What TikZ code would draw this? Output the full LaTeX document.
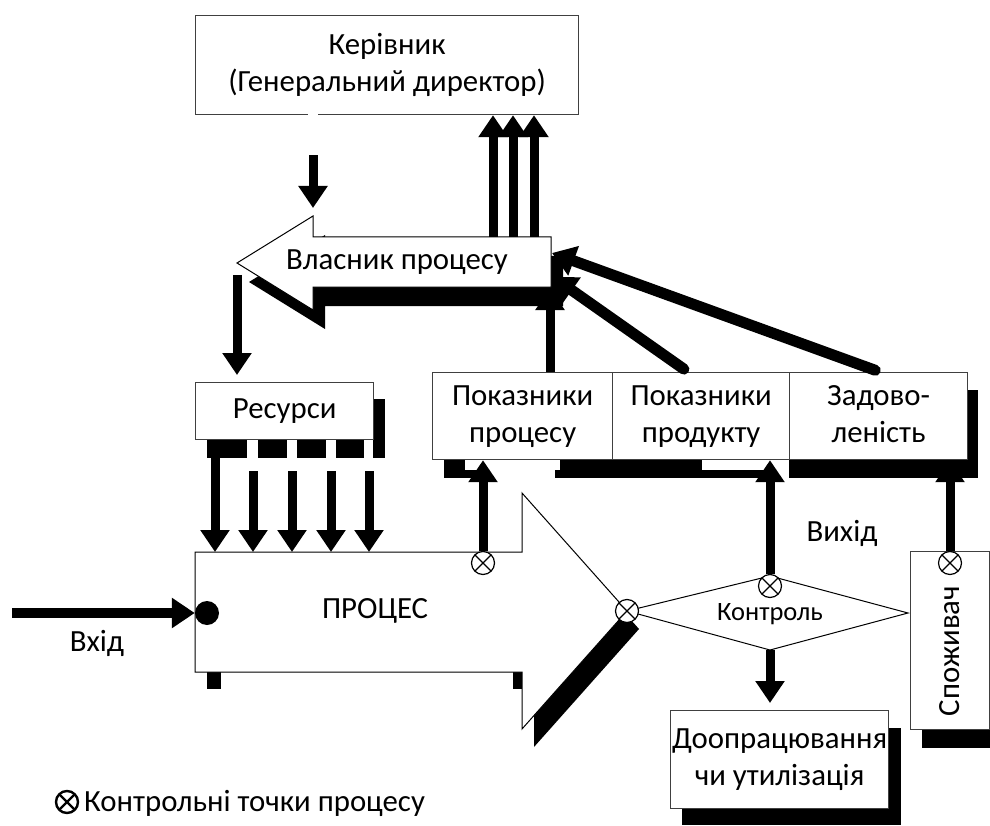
\documentclass[tikz,border=0pt]{standalone}
\usepackage{fontspec}
\setmainfont{Carlito}
\usetikzlibrary{arrows.meta,calc}

\newcommand\diagfont{\fontsize{30.8}{37}\selectfont}
\newcommand\smallfont{\fontsize{26.5}{32}\selectfont}

\tikzset{
  box/.style={draw=black!75, line width=1.2pt, fill=white, inner sep=0pt, align=center, font=\diagfont},
  outline/.style={draw=black, line width=1pt, fill=white},
  lbl/.style={inner sep=0pt, font=\diagfont, align=center},
  fat/.style={line width=9pt, -{Triangle[width=28pt,length=22pt]}},
  fatdiag/.style={line width=11pt, line cap=round, -{Triangle[width=30pt,length=23pt]}},
  cpoint/.style={circle, draw=black, fill=white, line width=1.2pt, minimum size=23pt, inner sep=0pt,
    path picture={
      \draw[line width=1.2pt] (path picture bounding box.north west) -- (path picture bounding box.south east)
        (path picture bounding box.north east) -- (path picture bounding box.south west);}},
  legpoint/.style={circle, draw=black, fill=white, line width=2.4pt, minimum size=22pt, inner sep=0pt,
    path picture={
      \draw[line width=2.4pt] (path picture bounding box.north west) -- (path picture bounding box.south east)
        (path picture bounding box.north east) -- (path picture bounding box.south west);}},
}

\begin{document}
\begin{tikzpicture}[x=1pt, y=-1pt]
\useasboundingbox (0,0) rectangle (990,826);

% ---------- shadows ----------
% process owner arrow
\fill[black, shift={(12,19)}] (551,237) -- (313,237) -- (313,216) -- (237,263) -- (313,310) -- (313,287) -- (551,287) -- cycle;
% resources box
\fill (373,399) rectangle (385,458);
\foreach \a/\b in {207/247,258/287,297/326,336/364,374/385}
  \fill (\a,439) rectangle (\b,458);
% indicator boxes
\fill (444,459) rectangle (465,478);
\fill (465,470) rectangle (478,478);
\fill (555,470) rectangle (560,478);
\fill (560,459) rectangle (702,478);
\fill (702,470) rectangle (772,478);
\fill (789,459) rectangle (978,478);
\fill (967,390) rectangle (978,459);
% process arrow
\fill (534,511) -- (639,629) -- (534,747) -- cycle;
\fill (207,672) rectangle (221,689);
\fill (513,672) rectangle (523,689);
% rework and consumer boxes
\fill (682,728) rectangle (901,825);
\fill (922,729) rectangle (990,748);

% ---------- shapes ----------
\node[box, minimum width=383pt, minimum height=99pt, anchor=north west] (boss) at (195,15)
  {Керівник\\(Генеральний директор)};
\fill[white] (308,110) rectangle (318,118);

\draw[outline] (551,237) -- (313,237) -- (313,216) -- (237,263) -- (313,310) -- (313,287) -- (551,287) -- cycle;
\node[lbl] (owner) at (397,262) {Власник процесу};
\coordinate (ownTop) at (551,237);
\coordinate (ownHead) at (313,216);
\coordinate (ownTip) at (237,263);

\node[box, minimum width=178pt, minimum height=57pt, anchor=north west] (res) at (195,382) {Ресурси};

\node[box, minimum width=180pt, minimum height=87pt, anchor=north west] (pp) at (432,372) {Показники\strut\\процесу\strut};
\node[box, minimum width=177pt, minimum height=87pt, anchor=north west] (prod) at (612,372) {Показники\strut\\продукту\strut};
\node[box, minimum width=178pt, minimum height=87pt, anchor=north west] (zad) at (789,372) {Задово-\strut\\леність\strut};

\draw[outline] (195,552) -- (522,552) -- (522,493) -- (627,611) -- (522,729) -- (522,672) -- (195,672) -- cycle;
\node[lbl] (proc) at (375,611) {ПРОЦЕС};
\coordinate (procTop) at (195,552);

\draw[outline] (627,611) -- (770,576) -- (908,613) -- (770,650) -- cycle;
\node[inner sep=0pt, font=\smallfont] (ctl) at (770,614) {Контроль};
\coordinate (ctlS) at (770,650);

\node[box, minimum width=218pt, minimum height=98pt, anchor=north west] (fix) at (670,710)
  {Доопрацювання\\чи утилізація};

\node[box, minimum width=79pt, minimum height=178pt, anchor=north west] (cons) at (910,551) {};
\node[lbl, rotate=90] (consLbl) at (950,651) {Споживач};

% ---------- connectors ----------
\draw[fat, shorten <=40pt, shorten >=8pt] (313,0 |- boss.south) -- (ownHead);
\foreach \xx in {493,513,534}
  \draw[fat] (\xx,0 |- ownTop) -- (\xx,0 |- boss.south);
\draw[fat, shorten <=12pt, shorten >=7pt] (ownTip) -- (ownTip |- res.north);

\draw[fat] (215,0 |- res.south) -- (215,0 |- procTop);
\foreach \xx in {253,292,331,369}
  \draw[fat, shorten <=31pt] (\xx,0 |- res.south) -- (\xx,0 |- procTop);

\coordinate (tipA) at (550,288);
\coordinate (tipB) at (553,277);
\coordinate (tipC) at (552,253);
\draw[fat] (tipA |- pp.north) -- (tipA);
\draw[fatdiag, shorten <=5pt] (688,0 |- prod.north) -- (tipB);
\draw[fatdiag, shorten <=5pt] (880,0 |- zad.north) -- (tipC);

% input
\coordinate (inp) at (12,613);
\node[circle, fill=black, minimum size=24pt, inner sep=0pt] (inDot) at (207,613) {};
\draw[line width=10pt, -{Triangle[width=29pt,length=23pt]}] (inp) -- (inDot.west);
\node[lbl] (inLbl) at (97,643) {Вхід};

% control points
\node[cpoint] (cPro) at (483,563) {};
\node[cpoint] (cTip) at (627,611) {};
\node[cpoint] (cTop) at (770,586) {};
\node[cpoint] (cCons) at (950,563) {};

\draw[fat] (cPro.north) -- (cPro.north |- pp.south);
\draw[fat] (cTop.north) -- (cTop.north |- prod.south);
\draw[fat] (cCons.north) -- (cCons.north |- zad.south);
\draw[fat, shorten >=7pt] (ctlS) -- (ctlS |- fix.north);

\node[lbl] (outLbl) at (842,533) {Вихід};

% legend
\node[legpoint] (legSym) at (67,802) {};
\node[lbl, anchor=west] (legend) at (84,803) {Контрольні точки процесу};
\end{tikzpicture}
\end{document}
